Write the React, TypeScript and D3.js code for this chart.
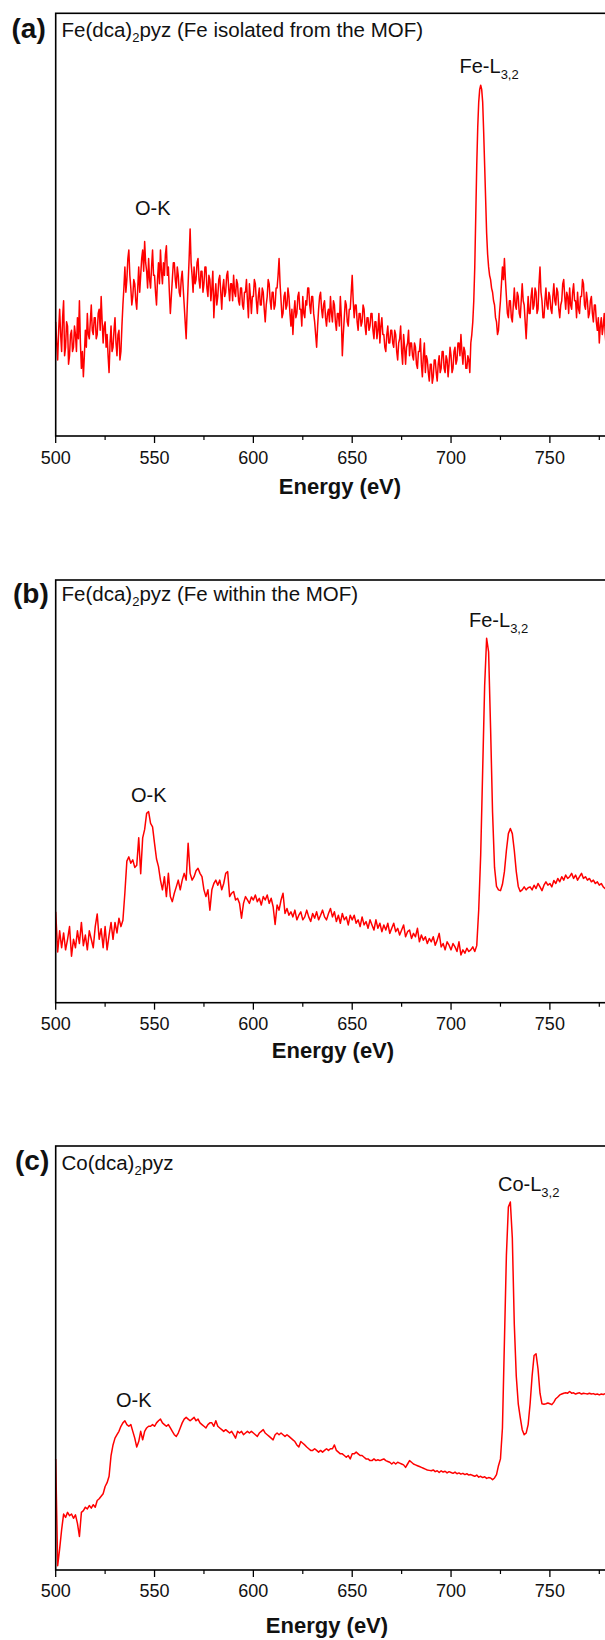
import React from "react";
import * as d3 from "d3";

// All spectra start at 500 eV; (a) is sampled every 0.5 eV, (b) and (c) every 1 eV
const ENERGY_START = 500;
const STEP_ISOLATED = 0.5;
const STEP_MOF = 1;
const STEP_COBALT = 1;

// Axis ticks (eV)
const MAJOR_TICKS = [500, 550, 600, 650, 700, 750];
const MINOR_TICKS = [525, 575, 625, 675, 725, 775];

// (a) Fe(dca)2pyz, Fe isolated from the MOF — intensity in % of frame height
const isolatedFe = [
  27, 22, 18, 25, 30, 24, 20, 28, 32, 19, 21, 27, 26, 17, 19, 24, 25, 20, 21, 26,
  24, 20, 28, 23, 32, 22, 16, 20, 14, 19, 25, 21, 29, 24, 23, 27, 31, 25, 24, 28,
  28, 23, 24, 29, 30, 25, 33, 27, 22, 26, 27, 21, 24, 19, 15, 22, 26, 20, 21, 25,
  28, 22, 19, 24, 25, 18, 20, 26, 31, 35, 40, 34, 37, 42, 44, 38, 35, 31, 33, 37,
  36, 32, 30, 35, 40, 34, 38, 42, 44, 39, 46, 41, 39, 35, 42, 37, 35, 40, 44, 38,
  38, 34, 31, 37, 41, 36, 44, 39, 36, 41, 38, 43, 45, 38, 40, 34, 29, 33, 37, 41,
  41, 37, 35, 40, 38, 34, 33, 37, 39, 35, 31, 27, 23, 30, 36, 42, 49, 41, 38, 34,
  40, 36, 37, 41, 42, 37, 35, 39, 39, 34, 36, 40, 40, 35, 33, 38, 37, 32, 35, 39,
  28, 33, 36, 31, 33, 37, 38, 34, 30, 35, 37, 33, 34, 38, 39, 35, 32, 36, 36, 32,
  38, 34, 33, 37, 36, 32, 31, 35, 35, 31, 30, 34, 34, 37, 32, 28, 36, 33, 29, 33,
  33, 37, 36, 32, 29, 33, 35, 31, 31, 35, 34, 30, 27, 31, 33, 37, 36, 32, 30, 34,
  34, 30, 31, 35, 35, 38, 42, 36, 32, 28, 29, 33, 34, 30, 31, 35, 33, 29, 26, 30,
  24, 29, 32, 28, 29, 33, 34, 30, 30, 26, 33, 29, 28, 32, 31, 35, 35, 31, 29, 33,
  33, 29, 27, 24, 21, 26, 30, 33, 34, 30, 28, 31, 32, 28, 26, 29, 30, 27, 33, 29,
  27, 32, 31, 27, 25, 29, 29, 26, 33, 28, 19, 24, 28, 32, 31, 27, 26, 30, 30, 34,
  38, 32, 28, 31, 31, 27, 25, 29, 29, 26, 27, 31, 30, 26, 24, 28, 28, 25, 26, 29,
  29, 25, 23, 27, 27, 23, 25, 29, 22, 26, 28, 24, 24, 21, 20, 24, 26, 22, 22, 25,
  25, 22, 21, 25, 24, 20, 18, 22, 23, 26, 20, 17, 24, 21, 17, 21, 22, 25, 19, 22,
  22, 19, 18, 22, 21, 17, 16, 20, 20, 23, 17, 14, 19, 22, 15, 19, 18, 15, 13, 17,
  17, 12.5, 14, 18, 18, 15, 13, 17, 19, 15, 16, 20, 20, 16, 15, 19, 18, 14, 17, 21,
  19, 15, 16, 20, 21, 17, 18, 22, 22, 19, 24, 20, 17, 21, 20, 16, 16, 19, 18, 15,
  22, 24, 27, 32, 40, 52, 64, 73, 79, 82, 83, 82, 79, 72, 64, 56, 48, 43, 40, 38,
  37, 35, 34, 32, 31, 28, 27, 24, 25, 29, 32, 36, 40, 37, 42, 37, 33, 29, 28, 32,
  32, 28, 27, 31, 35, 31, 30, 34, 33, 29, 28, 32, 36, 32, 31, 27, 23, 28, 33, 29,
  29, 33, 35, 30, 31, 35, 34, 29, 30, 36, 40, 34, 32, 28, 28, 32, 35, 31, 30, 34,
  33, 30, 29, 33, 36, 32, 31, 35, 34, 30, 28, 31, 32, 36, 37, 33, 30, 34, 33, 29,
  35, 31, 30, 34, 36, 32, 32, 28, 34, 30, 29, 33, 33, 37, 36, 31, 30, 34, 32, 28,
  29, 32, 33, 29, 27, 31, 31, 27, 25, 28, 22, 26, 28, 24, 26, 29, 24, 21, 27, 24,
  25, 29, 28, 24, 24, 27, 27, 23, 25, 28, 26, 24,
];

// (b) Fe(dca)2pyz, Fe within the MOF
const mofFe = [
  21.5, 12, 17, 13, 16.5, 12.5, 15, 18, 11, 15,
  13, 17, 14, 19, 13.5, 16, 12.5, 17, 15, 13,
  18, 21, 15, 17.5, 13, 18, 12.5, 16, 19, 15,
  19, 16.5, 20, 18, 19.5, 26, 33.5, 34.5, 33, 33.8,
  32, 32.5, 39, 30.5, 39, 41, 44.8, 45.2, 42.4, 41.6,
  37.7, 34, 32.2, 29, 26.7, 29.8, 25.1, 30.6, 25.1, 23.9,
  25.9, 27.4, 29, 26.7, 29, 30.6, 29, 37.7, 30.6, 29,
  29.8, 31.2, 31.8, 30.6, 29.8, 26.7, 25.1, 26.7, 21.9, 26.7,
  28.2, 29, 27.8, 29, 26.7, 28.2, 30.6, 31, 25.1, 25.9,
  26.3, 24.3, 24.7, 23.5, 20, 23.5, 25.1, 24.3, 23.5, 25,
  24.3, 25.5, 23.9, 24.7, 23.1, 25.1, 24.3, 25.5, 23.5, 24.7,
  22.7, 18.5, 23.1, 21.9, 24.3, 25.9, 21.1, 22.3, 20.7, 21.5,
  20.3, 21.9, 19.6, 20.7, 21.5, 19.6, 20.3, 21.9, 20.3, 19.2,
  21.1, 20, 21.5, 19.6, 20.7, 21.9, 20.3, 19.6, 21.1, 22.3,
  20.3, 21.5, 19.2, 20.7, 18.8, 21.1, 19.6, 20.3, 18.4, 20.7,
  19.6, 20.7, 18.8, 19.6, 18, 20.3, 18.4, 19.2, 17.6, 19.6,
  18.4, 17.2, 19.6, 17.6, 18.8, 16.8, 18.4, 17.2, 18.8, 16.4,
  17.6, 18.8, 16.8, 17.6, 16, 17.2, 18.4, 15.6, 16.8, 17.2,
  15.2, 16.4, 15.6, 17.6, 14.4, 16, 14.8, 15.6, 14, 15.2,
  14.4, 15.6, 13.6, 14.8, 16.4, 13.2, 14, 12.5, 14.4, 13.6,
  12.5, 14, 13.2, 12.1, 14.4, 11.3, 12.5, 11.7, 12.9, 12.1,
  12.5, 13.2, 12.1, 13.5, 22, 35, 55, 75, 86.2, 83,
  65, 45, 32, 27.5, 26.7, 26.5, 28, 31, 36, 40,
  41.2, 40, 36, 31, 27.5, 26.3, 26.7, 27.4, 26.7, 27.2,
  27.4, 26.7, 27.8, 27, 28.2, 27.4, 26.5, 27.8, 28.6, 27.8,
  28.2, 27.4, 28.9, 28.2, 29.4, 28.6, 29.8, 29, 30.2, 29.4,
  29.8, 30.6, 29.4, 30.2, 29, 29.8, 30.6, 29.4, 29.8, 29,
  29.4, 28.6, 29, 28.2, 28.6, 27.8, 28.2, 27.4, 27, 26.7,
  27, 26.3, 26.7, 26, 26.3, 25.9,
];

// (c) Co(dca)2pyz
const cobalt = [
  26.2, 1.0, 5.0, 9.5, 13.2, 12.4, 13.6, 12.8, 13.2, 12.2,
  13.0, 11.0, 7.9, 13.6, 14.0, 14.8, 14.4, 15.2, 14.6, 15.4,
  14.8, 16.4, 16.8, 17.4, 18.0, 19.7, 20.6, 22.1, 27.0, 29.5,
  31.1, 31.9, 32.7, 33.9, 34.7, 35.2, 34.3, 33.9, 34.3, 32.7,
  31.1, 29.0, 30.3, 32.7, 30.7, 32.7, 33.5, 33.9, 33.9, 34.3,
  33.9, 34.7, 35.2, 35.6, 34.7, 34.3, 33.9, 34.3, 33.5, 32.7,
  31.9, 31.5, 32.3, 33.5, 34.7, 35.6, 36.0, 35.6, 35.2, 35.6,
  36.0, 35.2, 35.6, 34.7, 34.3, 33.9, 33.5, 34.3, 34.7, 34.7,
  33.9, 35.2, 33.9, 33.5, 33.1, 32.7, 33.1, 32.7, 32.3, 32.7,
  31.9, 31.1, 32.7, 32.3, 32.7, 31.9, 32.3, 32.7, 32.3, 32.7,
  32.3, 31.9, 31.5, 32.3, 32.7, 33.1, 32.3, 31.9, 31.5, 31.1,
  30.7, 31.9, 32.3, 31.9, 32.3, 31.9, 31.5, 31.9, 31.5, 31.1,
  30.7, 30.3, 29.5, 29.0, 30.3, 29.9, 29.5, 29.0, 28.6, 28.2,
  28.2, 28.6, 28.2, 27.8, 28.2, 27.8, 28.2, 28.6, 28.2, 28.6,
  28.6, 29.5, 28.2, 27.8, 27.4, 27.4, 27.0, 26.6, 27.0, 26.2,
  27.4, 27.4, 27.8, 27.4, 27.0, 27.0, 26.6, 26.2, 26.2, 25.8,
  25.8, 26.2, 25.8, 26.0, 25.8, 26.0, 26.2, 25.8, 25.6, 25.4,
  25.0, 25.4, 25.0, 25.4, 25.2, 25.0, 24.8, 24.2, 25.0, 25.8,
  25.4, 25.0, 24.8, 24.6, 24.4, 24.2, 24.0, 23.8, 23.6, 23.5,
  23.4, 23.6, 23.2, 23.4, 23.0, 23.4, 23.1, 23.3, 22.9, 23.2,
  23.0, 22.8, 23.1, 22.7, 22.9, 22.6, 22.8, 22.5, 22.7, 22.4,
  22.5, 22.3, 22.1, 22.4, 21.9, 22.1, 21.8, 22.0, 21.6, 21.8,
  21.7, 21.3, 21.7, 22.5, 24.6, 26.2, 33.5, 53.9, 74.2, 85.6,
  86.8, 78.3, 57.9, 45.7, 39.2, 36.0, 33.1, 31.9, 32.3, 34.3,
  39.2, 45.7, 50.6, 51.0, 47.4, 41.7, 39.2, 39.1, 39.2, 39.4,
  39.2, 39.0, 39.6, 40.4, 40.8, 41.3, 41.5, 41.7, 41.8, 41.7,
  42.1, 41.7, 41.8, 41.5, 41.7, 41.8, 41.5, 41.7, 41.6, 41.5,
  41.7, 41.5, 41.6, 41.4, 41.5, 41.3, 41.5, 41.4, 41.6, 41.3,
  41.4, 41.2, 41.4, 41.3, 41.1, 41.3,
];

const FONT = "'Liberation Sans', Arial, Helvetica, sans-serif";
const LINE_COLOR = "#ff0000";

const X_LEFT = 55.7;
const X_RIGHT = 625;
const x = d3.scaleLinear().domain([500, 788]).range([X_LEFT, X_RIGHT]);

type PanelSpec = {
  letter: string;
  metal: string;
  note: string;
  edge: string;
  data: number[];
  step: number;
  top: number;
  bottom: number;
  letterX: number;
  letterY: number;
  titleY: number;
  okX: number;
  okY: number;
  edgeX: number;
  edgeY: number;
  tickY: number;
  axisTitleX: number;
  axisTitleY: number;
};

const PANELS: PanelSpec[] = [
  {
    letter: "(a)", metal: "Fe", note: " (Fe isolated from the MOF)", edge: "Fe-L",
    data: isolatedFe, step: STEP_ISOLATED, top: 13.3, bottom: 436,
    letterX: 11.5, letterY: 38, titleY: 37,
    okX: 135, okY: 215, edgeX: 459.5, edgeY: 72.7,
    tickY: 464, axisTitleX: 340, axisTitleY: 494,
  },
  {
    letter: "(b)", metal: "Fe", note: " (Fe within the MOF)", edge: "Fe-L",
    data: mofFe, step: STEP_MOF, top: 580, bottom: 1002.7,
    letterX: 13, letterY: 603, titleY: 601,
    okX: 131, okY: 801.7, edgeX: 469, edgeY: 626.7,
    tickY: 1030, axisTitleX: 333, axisTitleY: 1058,
  },
  {
    letter: "(c)", metal: "Co", note: "", edge: "Co-L",
    data: cobalt, step: STEP_COBALT, top: 1146, bottom: 1570,
    letterX: 15, letterY: 1170, titleY: 1170,
    okX: 116, okY: 1407, edgeX: 498, edgeY: 1191.4,
    tickY: 1597, axisTitleX: 327, axisTitleY: 1633,
  },
];

function Panel({ p }: { p: PanelSpec }) {
  const y = d3.scaleLinear().domain([0, 100]).range([p.bottom, p.top]);
  const line = d3
    .line<number>()
    .x((_, i) => x(ENERGY_START + i * p.step))
    .y((d) => y(d));

  return (
    <g>
      <path
        d={line(p.data) ?? ""}
        fill="none"
        stroke={LINE_COLOR}
        strokeWidth={1.5}
        strokeLinejoin="round"
      />
      {/* frame */}
      <rect
        x={X_LEFT}
        y={p.top}
        width={X_RIGHT - X_LEFT}
        height={p.bottom - p.top}
        fill="none"
        stroke="#000"
        strokeWidth={1.6}
      />
      {/* bottom axis ticks */}
      {MAJOR_TICKS.map((t) => (
        <g key={`M${t}`}>
          <line x1={x(t)} x2={x(t)} y1={p.bottom} y2={p.bottom + 7} stroke="#000" strokeWidth={1.3} />
          <text
            x={x(t)}
            y={p.tickY}
            textAnchor="middle"
            fontFamily={FONT}
            fontSize={18}
            fill="#111"
          >
            {t}
          </text>
        </g>
      ))}
      {MINOR_TICKS.map((t) => (
        <line key={`m${t}`} x1={x(t)} x2={x(t)} y1={p.bottom} y2={p.bottom + 4} stroke="#000" strokeWidth={1.2} />
      ))}
      <text
        x={p.axisTitleX}
        y={p.axisTitleY}
        textAnchor="middle"
        fontFamily={FONT}
        fontSize={22}
        fontWeight="bold"
        fill="#111"
      >
        Energy (eV)
      </text>
      {/* panel letter and sample name */}
      <text x={p.letterX} y={p.letterY} fontFamily={FONT} fontSize={28} fontWeight="bold" fill="#111">
        {p.letter}
      </text>
      <text x={61.5} y={p.titleY} fontFamily={FONT} fontSize={20.5} fill="#111">
        {p.metal}(dca)
        <tspan dy={5} fontSize={13}>2</tspan>
        <tspan dy={-5}>pyz{p.note}</tspan>
      </text>
      {/* edge labels */}
      <text x={p.okX} y={p.okY} fontFamily={FONT} fontSize={20} fill="#111">
        O-K
      </text>
      <text x={p.edgeX} y={p.edgeY} fontFamily={FONT} fontSize={20} fill="#111">
        {p.edge}
        <tspan dy={6} fontSize={13}>3,2</tspan>
      </text>
    </g>
  );
}

export default function App() {
  return (
    <svg
      width={605}
      height={1640}
      viewBox="0 0 605 1640"
      style={{ position: "absolute", left: 0, top: 0, background: "#fff" }}
    >
      <rect x={0} y={0} width={605} height={1640} fill="#fff" />
      {PANELS.map((p) => (
        <Panel key={p.letter} p={p} />
      ))}
    </svg>
  );
}
